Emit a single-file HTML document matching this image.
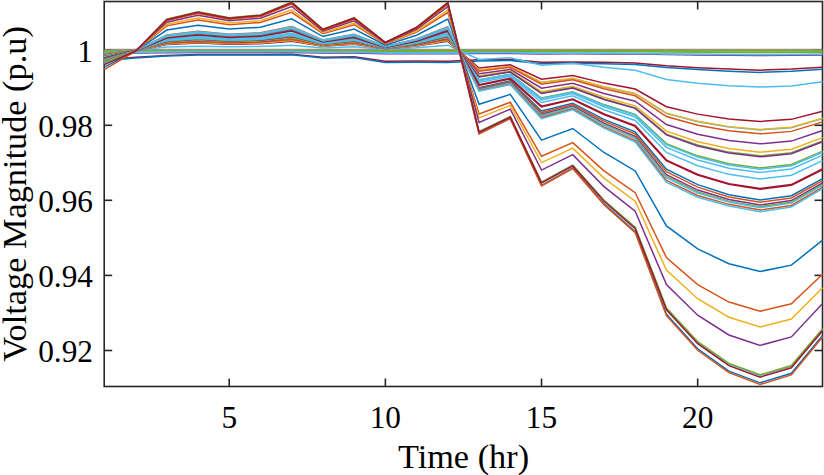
<!DOCTYPE html>
<html><head><meta charset="utf-8"><style>
html,body{margin:0;padding:0;background:#fff;width:824px;height:475px;overflow:hidden}
svg{display:block}
text{font-family:"Liberation Serif",serif;fill:#000}
</style></head><body>
<svg width="824" height="475" viewBox="0 0 824 475">
<defs><clipPath id="c"><rect x="103.2" y="1.8" width="720.30" height="385.00"/></clipPath></defs>
<rect width="824" height="475" fill="#fff"/>
<g stroke="#262626" stroke-width="1.6" fill="none">
<rect x="104.2" y="1.5" width="718.30" height="385.00"/>
<line x1="104.2" y1="50.2" x2="112.2" y2="50.2"/>
<line x1="822.5" y1="50.2" x2="814.5" y2="50.2"/>
<line x1="104.2" y1="125.3" x2="112.2" y2="125.3"/>
<line x1="822.5" y1="125.3" x2="814.5" y2="125.3"/>
<line x1="104.2" y1="200.3" x2="112.2" y2="200.3"/>
<line x1="822.5" y1="200.3" x2="814.5" y2="200.3"/>
<line x1="104.2" y1="275.4" x2="112.2" y2="275.4"/>
<line x1="822.5" y1="275.4" x2="814.5" y2="275.4"/>
<line x1="104.2" y1="350.5" x2="112.2" y2="350.5"/>
<line x1="822.5" y1="350.5" x2="814.5" y2="350.5"/>
<line x1="229.22" y1="386.5" x2="229.22" y2="378.5"/>
<line x1="229.22" y1="1.5" x2="229.22" y2="9.5"/>
<line x1="385.37" y1="386.5" x2="385.37" y2="378.5"/>
<line x1="385.37" y1="1.5" x2="385.37" y2="9.5"/>
<line x1="541.52" y1="386.5" x2="541.52" y2="378.5"/>
<line x1="541.52" y1="1.5" x2="541.52" y2="9.5"/>
<line x1="697.67" y1="386.5" x2="697.67" y2="378.5"/>
<line x1="697.67" y1="1.5" x2="697.67" y2="9.5"/>
</g>
<g fill="none" stroke-linejoin="miter" stroke-miterlimit="10" clip-path="url(#c)">
<polyline points="104.30,49.30 135.53,49.30 166.76,49.30 197.99,49.30 229.22,49.30 260.45,49.30 291.68,49.30 322.91,49.30 354.14,49.30 385.37,49.30 416.60,49.30 447.83,49.30 479.06,49.30 510.29,49.30 541.52,49.30 572.75,49.30 603.98,49.30 635.21,49.30 666.44,49.30 697.67,49.30 728.90,49.30 760.13,49.30 791.36,49.30 822.59,49.30" stroke="#8f7468" stroke-width="1.0"/>
<polyline points="104.30,51.44 135.53,51.23 166.76,51.06 197.99,50.98 229.22,50.98 260.45,50.98 291.68,50.97 322.91,51.22 354.14,51.18 385.37,51.58 416.60,51.56 447.83,51.58 479.06,51.46 510.29,51.42 541.52,51.68 572.75,51.64 603.98,51.68 635.21,51.74 666.44,51.99 697.67,52.15 728.90,52.28 760.13,52.38 791.36,52.28 822.59,52.12" stroke="#77AC30" stroke-width="1.6"/>
<polyline points="104.30,50.80 135.53,50.80 166.76,50.80 197.99,50.80 229.22,50.80 260.45,50.80 291.68,50.80 322.91,50.80 354.14,50.80 385.37,50.80 416.60,50.80 447.83,50.80 479.06,50.80 510.29,50.80 541.52,50.80 572.75,50.80 603.98,50.80 635.21,50.80 666.44,50.80 697.67,50.80 728.90,50.80 760.13,50.80 791.36,50.80 822.59,50.80" stroke="#77AC30" stroke-width="2.0"/>
<polyline points="104.30,53.58 135.53,53.14 166.76,52.79 197.99,52.62 229.22,52.62 260.45,52.62 291.68,52.58 322.91,53.11 354.14,53.04 385.37,53.87 416.60,53.84 447.83,53.87 479.06,53.62 510.29,53.53 541.52,54.09 572.75,54.01 603.98,54.09 635.21,54.21 666.44,54.76 697.67,55.10 728.90,55.37 760.13,55.57 791.36,55.37 822.59,55.03" stroke="#7E2F8E" stroke-width="1.2"/>
<polyline points="104.30,52.69 135.53,52.24 166.76,51.89 197.99,51.72 229.22,51.72 260.45,51.72 291.68,51.68 322.91,52.21 354.14,52.14 385.37,52.97 416.60,52.94 447.83,52.97 479.06,52.72 510.29,52.63 541.52,53.20 572.75,53.11 603.98,53.20 635.21,53.31 666.44,53.86 697.67,54.20 728.90,54.47 760.13,54.67 791.36,54.47 822.59,54.13" stroke="#4DBEEE" stroke-width="1.8"/>
<polyline points="104.30,59.65 135.53,57.31 166.76,55.42 197.99,54.52 229.22,54.52 260.45,54.52 291.68,54.34 322.91,57.13 354.14,56.77 385.37,61.18 416.60,61.00 447.83,61.18 479.06,59.83 510.29,59.38 541.52,62.35 572.75,61.90 603.98,62.35 635.21,62.98 666.44,65.86 697.67,67.66 728.90,69.10 760.13,70.18 791.36,69.10 822.59,67.30" stroke="#A2142F" stroke-width="1.5"/>
<polyline points="104.30,60.70 135.53,58.10 166.76,56.00 197.99,55.00 229.22,55.00 260.45,55.00 291.68,54.80 322.91,57.90 354.14,57.50 385.37,62.40 416.60,62.20 447.83,62.40 479.06,60.90 510.29,60.40 541.52,63.70 572.75,63.20 603.98,63.70 635.21,64.40 666.44,67.60 697.67,69.60 728.90,71.20 760.13,72.40 791.36,71.20 822.59,69.20" stroke="#0072BD" stroke-width="1.5"/>
<polyline points="104.30,52.70 135.53,50.30 166.76,46.95 197.99,46.16 229.22,46.79 260.45,46.49 291.68,45.13 322.91,48.00 354.14,46.79 385.37,49.38 416.60,47.79 447.83,45.16 479.06,59.42 510.29,57.72 541.52,65.14 572.75,63.21 603.98,67.20 635.21,70.26 666.44,79.41 697.67,83.21 728.90,85.68 760.13,86.97 791.36,85.92 822.59,81.75" stroke="#4DBEEE" stroke-width="1.5"/>
<polyline points="104.30,54.00 135.53,50.39 166.76,44.47 197.99,43.08 229.22,44.19 260.45,43.67 291.68,41.26 322.91,46.32 354.14,44.19 385.37,48.76 416.60,45.95 447.83,41.32 479.06,68.05 510.29,64.77 541.52,79.13 572.75,75.40 603.98,83.11 635.21,89.05 666.44,106.75 697.67,114.12 728.90,118.89 760.13,121.41 791.36,119.36 822.59,111.29" stroke="#A2142F" stroke-width="1.5"/>
<polyline points="104.30,54.40 135.53,50.41 166.76,43.78 197.99,42.23 229.22,43.47 260.45,42.89 291.68,40.20 322.91,45.85 354.14,43.47 385.37,48.59 416.60,45.44 447.83,40.26 479.06,70.19 510.29,66.51 541.52,82.59 572.75,78.41 603.98,87.05 635.21,93.70 666.44,113.52 697.67,121.77 728.90,127.12 760.13,129.93 791.36,127.64 822.59,118.60" stroke="#4DBEEE" stroke-width="1.5"/>
<polyline points="104.30,54.40 135.53,50.41 166.76,43.81 197.99,42.27 229.22,43.51 260.45,42.93 291.68,40.25 322.91,45.87 354.14,43.51 385.37,48.59 416.60,45.46 447.83,40.31 479.06,70.06 510.29,66.41 541.52,82.38 572.75,78.24 603.98,86.82 635.21,93.43 666.44,113.12 697.67,121.32 728.90,126.63 760.13,129.43 791.36,127.15 822.59,118.17" stroke="#EDB120" stroke-width="1.5"/>
<polyline points="104.30,54.80 135.53,50.42 166.76,43.32 197.99,41.65 229.22,42.98 260.45,42.36 291.68,39.48 322.91,45.54 354.14,42.98 385.37,48.47 416.60,45.09 447.83,39.54 479.06,71.15 510.29,67.30 541.52,84.15 572.75,79.78 603.98,88.83 635.21,95.80 666.44,116.58 697.67,125.23 728.90,130.82 760.13,133.78 791.36,131.38 822.59,121.90" stroke="#D95319" stroke-width="1.5"/>
<polyline points="104.30,55.20 135.53,50.45 166.76,42.45 197.99,40.58 229.22,42.08 260.45,41.38 291.68,38.12 322.91,44.95 354.14,42.08 385.37,48.25 416.60,44.45 447.83,38.20 479.06,73.66 510.29,69.35 541.52,88.22 572.75,83.32 603.98,93.46 635.21,101.27 666.44,124.54 697.67,134.23 728.90,140.50 760.13,143.80 791.36,141.12 822.59,130.50" stroke="#7E2F8E" stroke-width="1.5"/>
<polyline points="104.30,55.60 135.53,50.47 166.76,41.98 197.99,40.00 229.22,41.59 260.45,40.85 291.68,37.40 322.91,44.64 354.14,41.59 385.37,48.13 416.60,44.11 447.83,37.48 479.06,75.76 510.29,71.06 541.52,91.62 572.75,86.28 603.98,97.32 635.21,105.83 666.44,131.18 697.67,141.73 728.90,148.56 760.13,152.16 791.36,149.23 822.59,137.67" stroke="#EDB120" stroke-width="1.5"/>
<polyline points="104.30,56.00 135.53,50.48 166.76,41.68 197.99,39.61 229.22,41.26 260.45,40.49 291.68,36.92 322.91,44.43 354.14,41.26 385.37,48.05 416.60,43.88 447.83,37.00 479.06,76.68 510.29,71.81 541.52,93.11 572.75,87.58 603.98,99.02 635.21,107.84 666.44,134.10 697.67,145.03 728.90,152.11 760.13,155.84 791.36,152.81 822.59,140.83" stroke="#77AC30" stroke-width="1.5"/>
<polyline points="104.30,56.40 135.53,50.48 166.76,41.43 197.99,39.30 229.22,41.00 260.45,40.21 291.68,36.53 322.91,44.26 354.14,41.00 385.37,47.99 416.60,43.69 447.83,36.62 479.06,76.93 510.29,72.02 541.52,93.52 572.75,87.94 603.98,99.49 635.21,108.39 666.44,134.89 697.67,145.93 728.90,153.08 760.13,156.84 791.36,153.78 822.59,141.69" stroke="#7E2F8E" stroke-width="1.5"/>
<polyline points="104.30,56.80 135.53,50.50 166.76,40.90 197.99,38.65 229.22,40.45 260.45,39.61 291.68,35.71 322.91,43.90 354.14,40.45 385.37,47.86 416.60,43.30 447.83,35.80 479.06,79.70 510.29,74.28 541.52,98.00 572.75,91.84 603.98,104.58 635.21,114.40 666.44,143.66 697.67,155.84 728.90,163.72 760.13,167.87 791.36,164.49 822.59,151.15" stroke="#77AC30" stroke-width="1.5"/>
<polyline points="104.30,57.20 135.53,50.51 166.76,40.59 197.99,38.27 229.22,40.12 260.45,39.26 291.68,35.23 322.91,43.69 354.14,40.12 385.37,47.78 416.60,43.07 447.83,35.32 479.06,80.03 510.29,74.55 541.52,98.54 572.75,92.31 603.98,105.20 635.21,115.13 666.44,144.72 697.67,157.04 728.90,165.01 760.13,169.21 791.36,165.79 822.59,152.30" stroke="#4DBEEE" stroke-width="1.5"/>
<polyline points="104.30,57.40 135.53,50.54 166.76,39.82 197.99,37.30 229.22,39.31 260.45,38.37 291.68,34.02 322.91,43.17 354.14,39.31 385.37,47.59 416.60,42.50 447.83,34.12 479.06,80.87 510.29,75.23 541.52,99.90 572.75,93.50 603.98,106.75 635.21,116.96 666.44,147.37 697.67,160.04 728.90,168.24 760.13,172.55 791.36,169.04 822.59,155.17" stroke="#4DBEEE" stroke-width="1.5"/>
<polyline points="104.30,57.80 135.53,50.56 166.76,39.10 197.99,36.42 229.22,38.57 260.45,37.56 291.68,32.91 322.91,42.68 354.14,38.57 385.37,47.41 416.60,41.97 447.83,33.02 479.06,82.46 510.29,76.53 541.52,102.48 572.75,95.75 603.98,109.68 635.21,120.42 666.44,152.42 697.67,165.74 728.90,174.36 760.13,178.91 791.36,175.21 822.59,160.62" stroke="#4DBEEE" stroke-width="1.5"/>
<polyline points="104.30,58.20 135.53,50.60 166.76,37.71 197.99,34.68 229.22,37.10 260.45,35.97 291.68,30.74 322.91,41.74 354.14,37.10 385.37,47.06 416.60,40.93 447.83,30.86 479.06,84.98 510.29,78.59 541.52,106.56 572.75,99.29 603.98,114.32 635.21,125.90 666.44,160.38 697.67,174.74 728.90,184.04 760.13,188.93 791.36,184.95 822.59,169.22" stroke="#A2142F" stroke-width="2.2"/>
<polyline points="104.30,58.60 135.53,50.63 166.76,36.87 197.99,33.65 229.22,36.23 260.45,35.02 291.68,29.43 322.91,41.17 354.14,36.23 385.37,46.85 416.60,40.31 447.83,29.56 479.06,87.74 510.29,80.84 541.52,111.04 572.75,103.20 603.98,119.42 635.21,131.92 666.44,169.14 697.67,184.64 728.90,194.68 760.13,199.97 791.36,195.67 822.59,178.69" stroke="#0072BD" stroke-width="1.5"/>
<polyline points="104.30,59.00 135.53,50.64 166.76,36.56 197.99,33.26 229.22,35.90 260.45,34.67 291.68,28.95 322.91,40.96 354.14,35.90 385.37,46.77 416.60,40.08 447.83,29.08 479.06,88.45 510.29,81.61 541.52,112.56 572.75,104.52 603.98,121.15 635.21,133.96 666.44,171.75 697.67,187.17 728.90,196.94 760.13,202.31 791.36,197.94 822.59,180.69" stroke="#D95319" stroke-width="1.5"/>
<polyline points="104.30,59.40 135.53,50.65 166.76,36.41 197.99,33.07 229.22,35.74 260.45,34.49 291.68,28.71 322.91,40.86 354.14,35.74 385.37,46.73 416.60,39.97 447.83,28.84 479.06,89.25 510.29,82.48 541.52,114.30 572.75,106.04 603.98,123.12 635.21,136.29 666.44,174.72 697.67,190.05 728.90,199.52 760.13,204.98 791.36,200.54 822.59,182.99" stroke="#7E2F8E" stroke-width="1.5"/>
<polyline points="104.30,59.80 135.53,50.65 166.76,36.25 197.99,32.88 229.22,35.58 260.45,34.32 291.68,28.47 322.91,40.75 354.14,35.58 385.37,46.69 416.60,39.85 447.83,28.60 479.06,89.75 510.29,83.03 541.52,115.38 572.75,106.98 603.98,124.36 635.21,137.75 666.44,176.58 697.67,191.85 728.90,201.13 760.13,206.65 791.36,202.16 822.59,184.42" stroke="#77AC30" stroke-width="1.5"/>
<polyline points="104.30,60.20 135.53,50.65 166.76,36.16 197.99,32.76 229.22,35.48 260.45,34.21 291.68,28.32 322.91,40.69 354.14,35.48 385.37,46.67 416.60,39.78 447.83,28.46 479.06,90.06 510.29,83.36 541.52,116.04 572.75,107.55 603.98,125.10 635.21,138.63 666.44,177.69 697.67,192.93 728.90,202.10 760.13,207.66 791.36,203.13 822.59,185.28" stroke="#4DBEEE" stroke-width="1.5"/>
<polyline points="104.30,60.60 135.53,50.69 166.76,34.95 197.99,31.26 229.22,34.21 260.45,32.83 291.68,26.44 322.91,39.87 354.14,34.21 385.37,46.36 416.60,38.88 447.83,26.58 479.06,90.76 510.29,84.13 541.52,117.56 572.75,108.88 603.98,126.83 635.21,140.67 666.44,180.30 697.67,195.45 728.90,204.36 760.13,210.00 791.36,205.41 822.59,187.29" stroke="#D95319" stroke-width="1.5"/>
<polyline points="104.30,61.00 135.53,50.68 166.76,35.29 197.99,31.68 229.22,34.57 260.45,33.22 291.68,26.97 322.91,40.10 354.14,34.57 385.37,46.45 416.60,39.14 447.83,27.11 479.06,91.26 510.29,84.67 541.52,118.64 572.75,109.82 603.98,128.07 635.21,142.13 666.44,182.15 697.67,197.25 728.90,205.97 760.13,211.67 791.36,207.03 822.59,188.72" stroke="#4DBEEE" stroke-width="1.5"/>
<polyline points="104.30,61.60 135.53,50.85 166.76,30.05 197.99,25.18 229.22,29.08 260.45,27.26 291.68,18.81 322.91,36.55 354.14,29.08 385.37,45.13 416.60,35.25 447.83,19.00 479.06,104.29 510.29,94.35 541.52,140.10 572.75,128.51 603.98,152.48 635.21,170.95 666.44,225.96 697.67,248.87 728.90,263.69 760.13,271.51 791.36,265.15 822.59,240.06" stroke="#0072BD" stroke-width="1.5"/>
<polyline points="104.30,62.00 135.53,50.98 166.76,25.87 197.99,19.98 229.22,24.69 260.45,22.49 291.68,12.28 322.91,33.72 354.14,24.69 385.37,44.08 416.60,32.15 447.83,12.52 479.06,114.01 510.29,102.28 541.52,156.26 572.75,142.59 603.98,170.86 635.21,192.65 666.44,257.56 697.67,284.58 728.90,302.07 760.13,311.29 791.36,303.79 822.59,274.19" stroke="#D95319" stroke-width="1.5"/>
<polyline points="104.30,62.40 135.53,51.04 166.76,24.32 197.99,18.05 229.22,23.06 260.45,20.72 291.68,9.87 322.91,32.67 354.14,23.06 385.37,43.69 416.60,31.00 447.83,10.12 479.06,117.85 510.29,105.42 541.52,162.64 572.75,148.15 603.98,178.13 635.21,201.23 666.44,270.03 697.67,298.68 728.90,317.23 760.13,327.00 791.36,319.05 822.59,287.67" stroke="#EDB120" stroke-width="1.5"/>
<polyline points="104.30,62.80 135.53,51.11 166.76,22.15 197.99,15.36 229.22,20.79 260.45,18.25 291.68,6.49 322.91,31.20 354.14,20.79 385.37,43.14 416.60,29.39 447.83,6.76 479.06,122.35 510.29,109.09 541.52,170.11 572.75,154.66 603.98,186.62 635.21,211.26 666.44,284.64 697.67,315.19 728.90,334.97 760.13,345.39 791.36,336.91 822.59,303.44" stroke="#7E2F8E" stroke-width="1.5"/>
<polyline points="104.30,63.20 135.53,51.19 166.76,19.51 197.99,12.09 229.22,18.03 260.45,15.25 291.68,2.38 322.91,29.41 354.14,18.03 385.37,42.48 416.60,27.43 447.83,2.68 479.06,131.74 510.29,116.75 541.52,182.33 572.75,165.31 603.98,200.53 635.21,227.68 666.44,308.53 697.67,342.20 728.90,363.99 760.13,375.47 791.36,366.13 822.59,329.26" stroke="#4DBEEE" stroke-width="1.5"/>
<polyline points="104.30,62.40 135.53,51.20 166.76,19.20 197.99,11.70 229.22,17.70 260.45,14.90 291.68,1.90 322.91,29.20 354.14,17.70 385.37,42.40 416.60,27.20 447.83,2.20 479.06,131.57 510.29,116.62 541.52,182.06 572.75,165.07 603.98,200.22 635.21,227.31 666.44,308.00 697.67,341.60 728.90,363.35 760.13,374.81 791.36,365.48 822.59,328.68" stroke="#77AC30" stroke-width="1.5"/>
<polyline points="104.30,67.10 135.53,51.17 166.76,20.13 197.99,12.86 229.22,18.68 260.45,15.96 291.68,3.35 322.91,29.83 354.14,18.68 385.37,42.63 416.60,27.89 447.83,3.64 479.06,133.58 510.29,118.26 541.52,185.32 572.75,167.91 603.98,203.93 635.21,231.69 666.44,314.37 697.67,348.80 728.90,371.09 760.13,382.83 791.36,373.28 822.59,335.57" stroke="#0072BD" stroke-width="1.5"/>
<polyline points="104.30,69.60 135.53,51.16 166.76,20.60 197.99,13.43 229.22,19.16 260.45,16.49 291.68,4.07 322.91,30.15 354.14,19.16 385.37,42.75 416.60,28.24 447.83,4.36 479.06,134.00 510.29,118.60 541.52,186.00 572.75,168.50 603.98,204.70 635.21,232.60 666.44,315.70 697.67,350.30 728.90,372.70 760.13,384.50 791.36,374.90 822.59,337.00" stroke="#D95319" stroke-width="1.5"/>
<polyline points="104.30,64.60 135.53,51.19 166.76,19.67 197.99,12.28 229.22,18.19 260.45,15.43 291.68,2.62 322.91,29.52 354.14,18.19 385.37,42.52 416.60,27.55 447.83,2.92 479.06,132.16 510.29,117.10 541.52,183.01 572.75,165.90 603.98,201.30 635.21,228.59 666.44,309.86 697.67,343.70 728.90,365.60 760.13,377.15 791.36,367.76 822.59,330.69" stroke="#A2142F" stroke-width="1.5"/>
</g>
<g font-size="31.3">
<text x="93" y="62.0" text-anchor="end">1</text>
<text x="93" y="137.1" text-anchor="end">0.98</text>
<text x="93" y="212.1" text-anchor="end">0.96</text>
<text x="93" y="287.2" text-anchor="end">0.94</text>
<text x="93" y="362.3" text-anchor="end">0.92</text>
<text x="229.22" y="427.5" text-anchor="middle">5</text>
<text x="385.37" y="427.5" text-anchor="middle">10</text>
<text x="541.52" y="427.5" text-anchor="middle">15</text>
<text x="697.67" y="427.5" text-anchor="middle">20</text>
</g>
<text x="463.5" y="468" font-size="34.3" text-anchor="middle">Time (hr)</text>
<text transform="translate(25.6,194) rotate(-90)" font-size="34.3" text-anchor="middle">Voltage Magnitude (p.u)</text>
</svg>
</body></html>
